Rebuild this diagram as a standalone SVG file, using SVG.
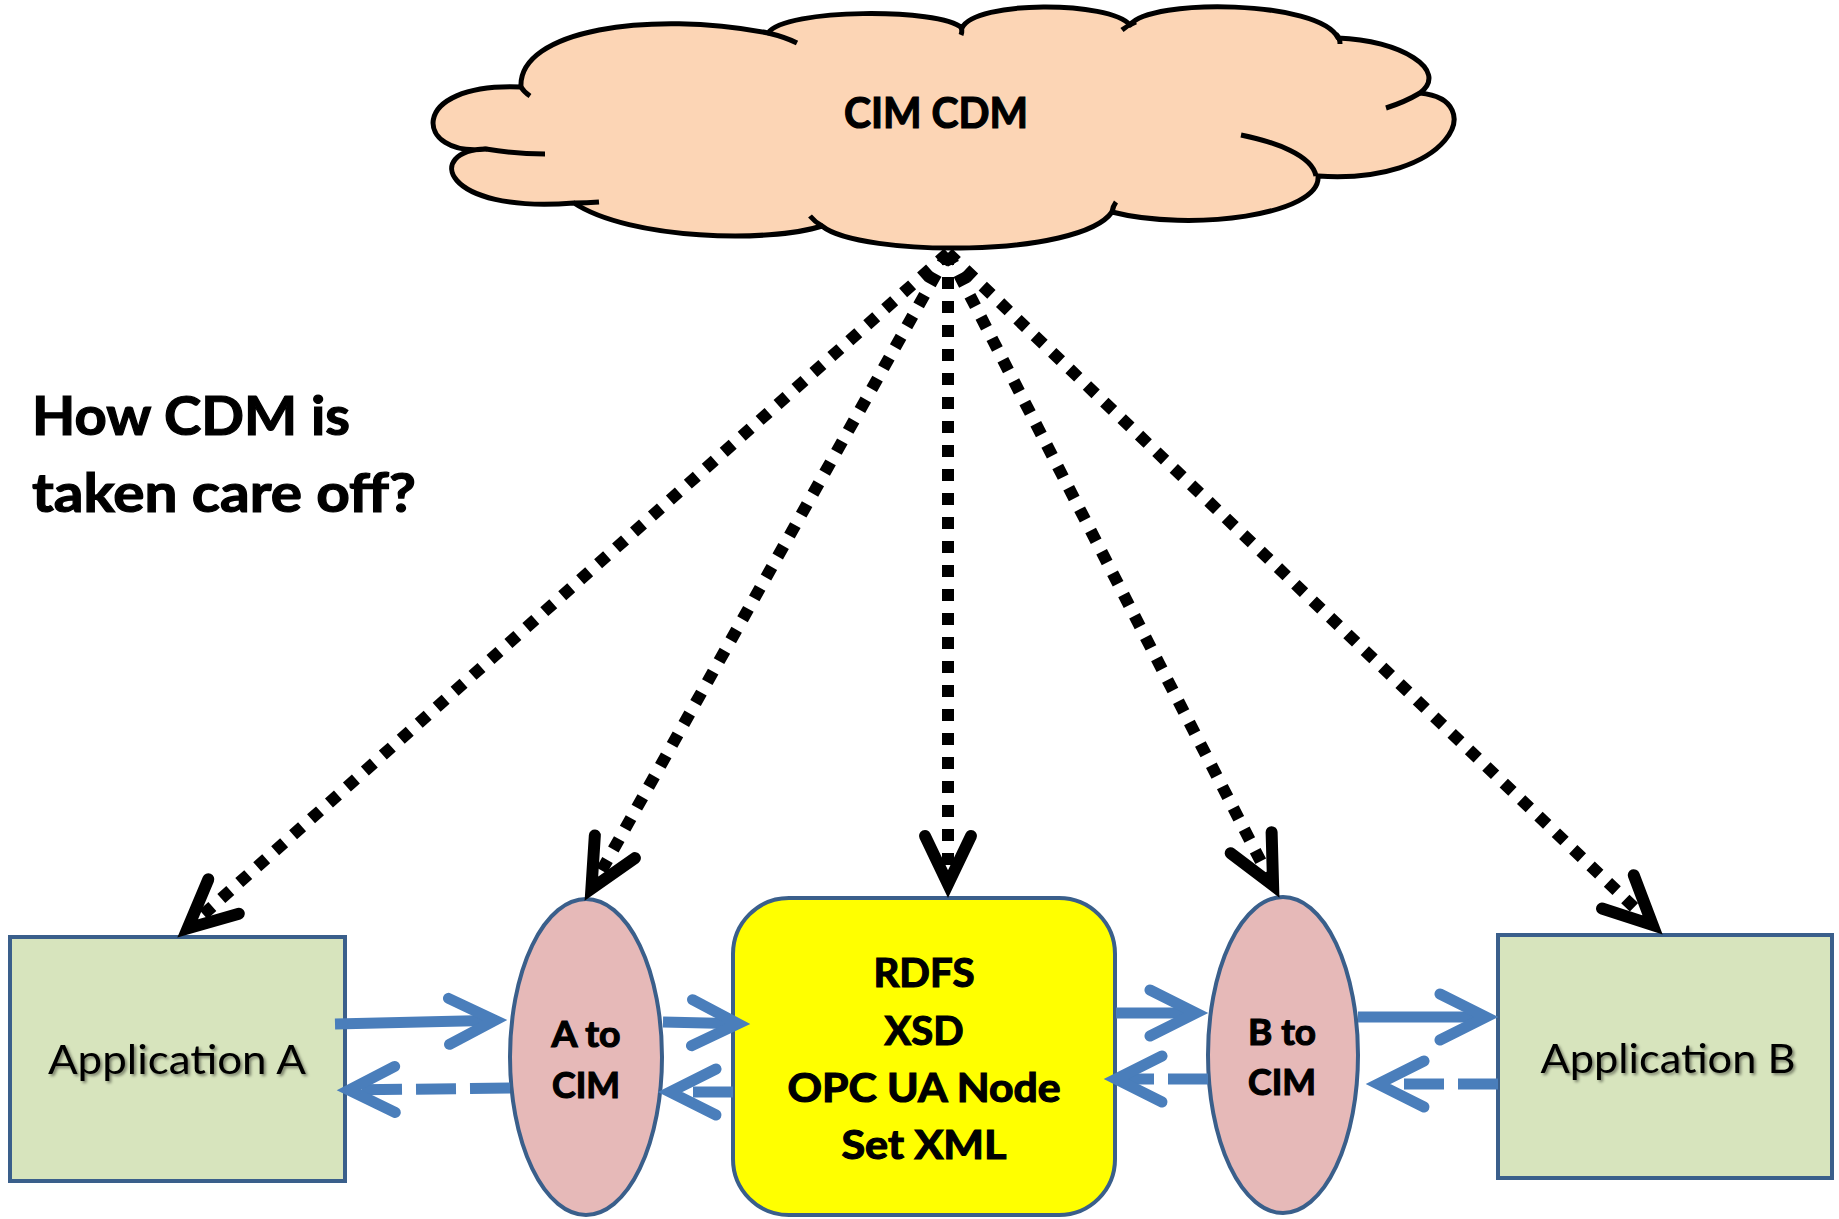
<svg xmlns="http://www.w3.org/2000/svg" width="1839" height="1219" viewBox="0 0 1839 1219">
  <style>
    .lbl { font-family: Lato, "Open Sans", "Liberation Sans", sans-serif; fill: #000; }
    .b { font-weight: bold; stroke: #000; stroke-width: 1.2; }
    .app { fill: #d7e4bd; stroke: #3a5f8b; stroke-width: 4; }
    .conv { fill: #e6b9b8; stroke: #3a5f8b; stroke-width: 4; }
    .cloud { fill: #fcd5b5; stroke: #000; stroke-width: 5; stroke-linejoin: round; }
    .stub { fill: none; stroke: #000; stroke-width: 5; stroke-linecap: butt; }
    .dot { fill: none; stroke: #000; stroke-width: 12; stroke-dasharray: 12 12; marker-end: url(#blackHead); }
    .flow { fill: none; stroke: #4a7ebb; stroke-width: 11; marker-end: url(#blueHead); }
    .back { stroke-dasharray: 40 14; }
  </style>
  <defs>
    <marker id="blackHead" markerUnits="userSpaceOnUse" viewBox="-60 -35 80 70" markerWidth="80" markerHeight="70" refX="0" refY="0" orient="auto" overflow="visible">
      <path d="M-48,-23 L0,0 L-48,23" fill="none" stroke="#000" stroke-width="12" stroke-linecap="round" stroke-linejoin="miter"/>
    </marker>
    <marker id="blueHead" markerUnits="userSpaceOnUse" viewBox="-60 -35 80 70" markerWidth="80" markerHeight="70" refX="0" refY="0" orient="auto" overflow="visible">
      <path d="M-46,-23 L0,0 L-46,23" fill="none" stroke="#4a7ebb" stroke-width="11" stroke-linecap="round" stroke-linejoin="miter"/>
    </marker>
    <filter id="shadow" x="-10%" y="-30%" width="120%" height="160%">
      <feDropShadow dx="2" dy="2" stdDeviation="1.5" flood-color="#000" flood-opacity="0.45"/>
    </filter>
  </defs>

  <rect x="0" y="0" width="1839" height="1219" fill="#ffffff"/>

  <g id="cim-cdm">
    <path class="cloud" d="M486,149 C415,158 405,82 521,87 C518,30 650,10 768,33 C785,8 940,8 962,28 C975,0 1110,1 1130,25 C1150,-2 1320,0 1338,38 C1400,40 1450,70 1420,93 C1490,100 1450,185 1318,176 C1322,215 1190,232 1112,212 C1080,258 860,257 822,226 C770,243 630,240 574,203 C440,214 425,150 486,149 Z"/>
    <path class="stub" d="M486,149 Q515,154 545,154"/>
    <path class="stub" d="M521,87 Q524,92 530,96"/>
    <path class="stub" d="M768,33 Q785,37 797,43"/>
    <path class="stub" d="M960,25 Q963,30 961,35"/>
    <path class="stub" d="M1136,22 Q1128,25 1122,30"/>
    <path class="stub" d="M1336,34 Q1340,38 1340,44"/>
    <path class="stub" d="M1420,93 Q1405,102 1386,108"/>
    <path class="stub" d="M1241,135 C1275,142 1312,155 1316,176"/>
    <path class="stub" d="M1112,212 Q1113,206 1116,202"/>
    <path class="stub" d="M822,226 Q815,222 810,216"/>
    <path class="stub" d="M574,203 Q587,203 599,202"/>
    <text class="lbl b" x="936" y="128" font-size="42" text-anchor="middle" textLength="184" lengthAdjust="spacingAndGlyphs">CIM CDM</text>
  </g>

  <g id="question">
    <text class="lbl b" x="32" y="435" font-size="53" textLength="318" lengthAdjust="spacingAndGlyphs">How CDM is</text>
    <text class="lbl b" x="32" y="512" font-size="53" textLength="384" lengthAdjust="spacingAndGlyphs">taken care off?</text>
  </g>

  <g id="application-a">
    <rect class="app" x="10" y="937" width="335" height="244"/>
    <text class="lbl" x="177" y="1074" font-size="41" text-anchor="middle" textLength="258" lengthAdjust="spacingAndGlyphs" filter="url(#shadow)">Application A</text>
  </g>

  <g id="a-to-cim">
    <ellipse class="conv" cx="586" cy="1057" rx="76" ry="158"/>
    <text class="lbl b" x="586" y="1047" font-size="36" text-anchor="middle" textLength="69" lengthAdjust="spacingAndGlyphs">A to</text>
    <text class="lbl b" x="586" y="1098" font-size="36" text-anchor="middle" textLength="68" lengthAdjust="spacingAndGlyphs">CIM</text>
  </g>

  <g id="formats">
    <rect x="733" y="898" width="382" height="317" rx="56" ry="56" fill="#ffff00" stroke="#3a5f8b" stroke-width="4"/>
    <text class="lbl b" x="924" y="987" font-size="40" text-anchor="middle" textLength="101" lengthAdjust="spacingAndGlyphs">RDFS</text>
    <text class="lbl b" x="924" y="1045" font-size="40" text-anchor="middle" textLength="79" lengthAdjust="spacingAndGlyphs">XSD</text>
    <text class="lbl b" x="924" y="1102" font-size="40" text-anchor="middle" textLength="273" lengthAdjust="spacingAndGlyphs">OPC UA Node</text>
    <text class="lbl b" x="924" y="1159" font-size="40" text-anchor="middle" textLength="165" lengthAdjust="spacingAndGlyphs">Set XML</text>
  </g>

  <g id="b-to-cim">
    <ellipse class="conv" cx="1283" cy="1055" rx="75" ry="158"/>
    <text class="lbl b" x="1282" y="1045" font-size="36" text-anchor="middle" textLength="68" lengthAdjust="spacingAndGlyphs">B to</text>
    <text class="lbl b" x="1282" y="1095" font-size="36" text-anchor="middle" textLength="68" lengthAdjust="spacingAndGlyphs">CIM</text>
  </g>

  <g id="application-b">
    <rect class="app" x="1498" y="935" width="334" height="243"/>
    <text class="lbl" x="1668" y="1073" font-size="41" text-anchor="middle" textLength="255" lengthAdjust="spacingAndGlyphs" filter="url(#shadow)">Application B</text>
  </g>

  <g id="connectors">
    <path class="dot" d="M948,253 L187.7,928.4"/>
    <path class="dot" d="M948,253 L591.4,888.7"/>
    <path class="dot" d="M948,253 L948,884"/>
    <path class="dot" d="M948,253 L1273.1,885.4"/>
    <path class="dot" d="M948,253 L1652.6,925"/>

    <path class="flow" d="M335,1024 L495,1020.3"/>
    <path class="flow back" d="M510,1088 L349,1090"/>
    <path class="flow" d="M663,1022 L738,1023.7"/>
    <path class="flow back" d="M733,1092 L670,1092"/>
    <path class="flow" d="M1116,1013 L1196,1013"/>
    <path class="flow back" d="M1208,1079 L1116,1079"/>
    <path class="flow" d="M1358,1017 L1486,1017"/>
    <path class="flow back" d="M1498,1084 L1378,1084"/>
  </g>
</svg>
